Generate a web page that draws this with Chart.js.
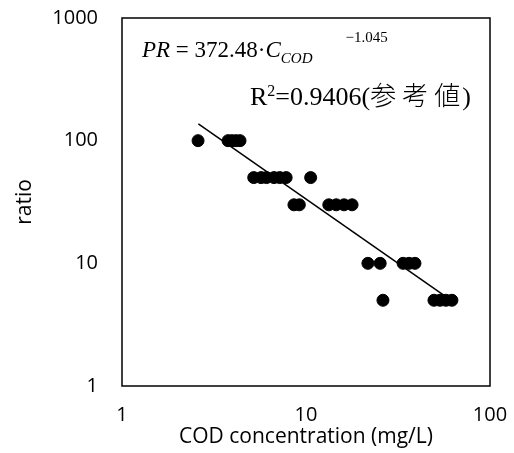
<!DOCTYPE html>
<html>
<head>
<meta charset="utf-8">
<script src="https://cdn.jsdelivr.net/npm/chart.js@4/dist/chart.umd.min.js"></script>
<style>
  html, body { margin: 0; padding: 0; background: #fff; }
  #wrap { position: relative; width: 514px; height: 453px; }
  canvas { display: block; }
  .ann { position: absolute; font-family: "Liberation Serif", "DejaVu Serif", serif; color: #000; white-space: nowrap; line-height: 1; }
  .sub { position: relative; top: 6px; font-size: 15px; font-style: italic; }
  .sup { position: relative; top: -15px; font-size: 15px; margin-left: 33px; }
  .cjk { font-family: "Noto Sans CJK JP", sans-serif; font-weight: 300; }
  .sp { letter-spacing: 6px; }
</style>
</head>
<body>
<div id="wrap">
  <canvas id="c" width="514" height="453"></canvas>
  <div class="ann" id="eq" style="left:142px; top:38px; font-size:23px;"><i>PR</i> = 372.48·<i>C</i><span class="sub">COD</span><span class="sup">−1.045</span></div>
  <div class="ann" id="r2" style="left:250px; top:81px; font-size:26px;">R<span style="position:relative; top:-9px; font-size:16px;">2</span>=0.9406(<span class="cjk sp">参考</span><span class="cjk">値</span><span style="margin-left:2px;">)</span></div>
</div>
<script>
// COD concentration (mg/L) and ratio
const codConcentration = [2.59, 3.77, 3.96, 4.17, 4.38,
  5.2, 5.7, 6.1, 6.7, 7.2, 7.8, 10.6,
  8.6, 9.2, 13.3, 14.6, 16.1, 17.8,
  21.7, 25.3, 33.7, 36.3, 39.1,
  26.2, 49.6, 53.5, 57.6, 62.1];
const ratio = [100, 100, 100, 100, 100,
  50, 50, 50, 50, 50, 50, 50,
  30, 30, 30, 30, 30, 30,
  10, 10, 10, 10, 10,
  5, 5, 5, 5, 5];
// trend line end points
const trendX = [2.6, 57];
const trendY = [137, 5.4];
const xTicks = [1, 10, 100];
const yTicks = [1, 10, 100, 1000];

const pts = codConcentration.map((x, i) => ({ x: x, y: ratio[i] }));
const trend = trendX.map((x, i) => ({ x: x, y: trendY[i] }));

const frame = {
  id: 'frame',
  afterDatasetsDraw(chart) {
    const a = chart.chartArea, ctx = chart.ctx;
    ctx.save();
    ctx.strokeStyle = '#000';
    ctx.lineWidth = 1.5;
    ctx.strokeRect(a.left, a.top, a.right - a.left, a.bottom - a.top);
    ctx.restore();
  }
};

const tickFont = { family: 'Open Sans, Noto Sans, sans-serif', size: 20 };
const titleFont = { family: 'Open Sans, Noto Sans, sans-serif', size: 21 };

new Chart(document.getElementById('c'), {
  type: 'scatter',
  data: {
    datasets: [
      { data: trend, type: 'line', showLine: true, borderColor: '#000', borderWidth: 1.5, pointRadius: 0, fill: false, order: 2 },
      { data: pts, backgroundColor: '#000', borderColor: '#000', pointRadius: 6, pointHoverRadius: 6, order: 1 }
    ]
  },
  options: {
    responsive: false,
    animation: false,
    events: [],
    layout: { padding: { top: 18, right: 24, left: 0, bottom: 0 } },
    plugins: { legend: { display: false }, tooltip: { enabled: false } },
    scales: {
      x: {
        type: 'logarithmic', min: 1, max: 100,
        afterBuildTicks: s => { s.ticks = xTicks.map(v => ({ value: v })); },
        afterFit: s => { s.height = 67; s.paddingLeft = 0; s.paddingRight = 0; },
        grid: { display: false, drawTicks: false },
        border: { display: false },
        ticks: { font: tickFont, color: '#000', padding: 17, maxRotation: 0, callback: v => String(v) },
        title: { display: true, text: 'COD concentration (mg/L)', font: titleFont, color: '#000', padding: { top: 0, bottom: 3 } }
      },
      y: {
        type: 'logarithmic', min: 1, max: 1000,
        afterBuildTicks: s => { s.ticks = yTicks.map(v => ({ value: v })); },
        afterFit: s => { s.width = 122; s.paddingTop = 0; s.paddingBottom = 0; },
        grid: { display: false, drawTicks: false },
        border: { display: false },
        ticks: { font: tickFont, color: '#000', padding: 24, callback: v => String(v) },
        title: { display: true, text: 'ratio', font: titleFont, color: '#000', padding: { top: 12, bottom: 0 } }
      }
    }
  },
  plugins: [frame]
});
</script>
</body>
</html>
